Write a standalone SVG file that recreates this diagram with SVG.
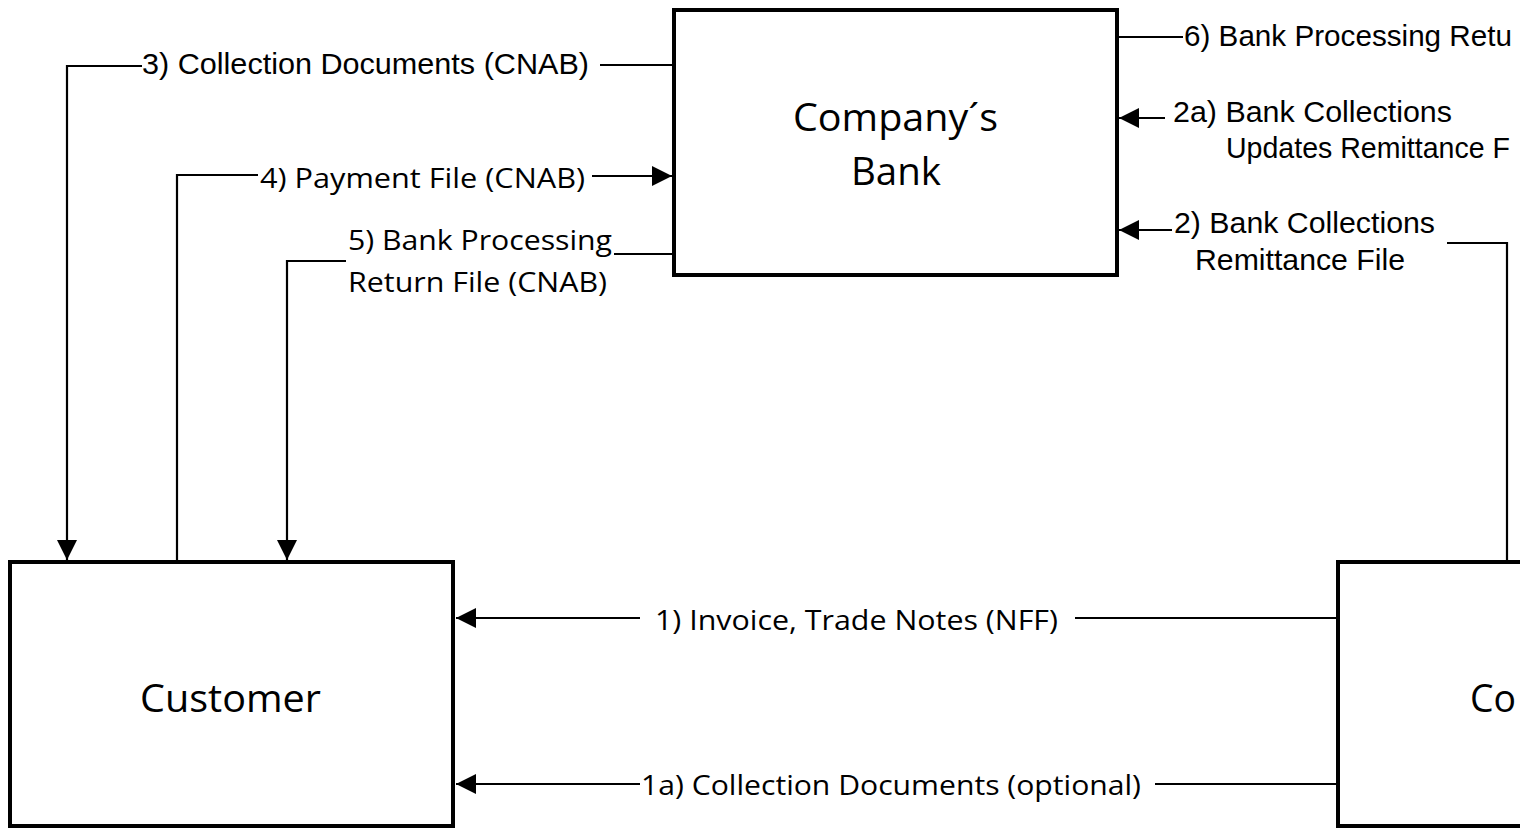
<svg xmlns="http://www.w3.org/2000/svg" width="1520" height="828" viewBox="0 0 1520 828">
<style>
.box{fill:#fff;stroke:#000;stroke-width:4}
.conn{fill:none;stroke:#000;stroke-width:2.2}
.arr{marker-end:url(#ah)}
.cal{font-family:"Open Sans","Noto Sans",sans-serif;fill:#000}
.ari{font-family:"Liberation Sans",Arial,sans-serif;fill:#000;font-size:30px}
.lbl{font-size:28px}
.big{font-size:38px}
</style>
<defs>
<marker id="ah" markerUnits="userSpaceOnUse" markerWidth="22" markerHeight="22" refX="20" refY="10" orient="auto">
<path d="M0,0 L20,10 L0,20 z" fill="#000"/>
</marker>
</defs>
<rect width="1520" height="828" fill="#fff"/>
<g id="connectors">
<path class="conn arr" d="M674,65 H600 M142,66 H67 V560"/>
<path class="conn arr" d="M177,560 V175 H258 M592,176 H672"/>
<path class="conn arr" d="M674,254 H614 M346,261 H287 V560"/>
<path class="conn" d="M1119,37 H1183"/>
<path class="conn arr" d="M1165,118 H1119"/>
<path class="conn arr" d="M1507,560 V243 H1447 M1172,230 H1119"/>
<path class="conn arr" d="M1336,618 H1075 M640,618 H456"/>
<path class="conn arr" d="M1336,784 H1155 M640,784 H456"/>
</g>
<g id="labels">
<text class="ari" x="142" y="74" textLength="447" lengthAdjust="spacingAndGlyphs">3) Collection Documents (CNAB)</text>
<text class="cal lbl" x="260" y="188" textLength="325" lengthAdjust="spacingAndGlyphs">4) Payment File (CNAB)</text>
<text class="cal lbl" x="348" y="250" textLength="264" lengthAdjust="spacingAndGlyphs">5) Bank Processing</text>
<text class="cal lbl" x="348" y="292" textLength="259" lengthAdjust="spacingAndGlyphs">Return File (CNAB)</text>
<text class="ari" x="1184" y="46" textLength="328" lengthAdjust="spacingAndGlyphs">6) Bank Processing Retu</text>
<text class="ari" x="1173" y="122" textLength="279" lengthAdjust="spacingAndGlyphs">2a) Bank Collections</text>
<text class="ari" x="1226" y="158" textLength="284" lengthAdjust="spacingAndGlyphs">Updates Remittance F</text>
<text class="ari" x="1174" y="233" textLength="261" lengthAdjust="spacingAndGlyphs">2) Bank Collections</text>
<text class="ari" x="1195" y="270" textLength="210" lengthAdjust="spacingAndGlyphs">Remittance File</text>
<text class="cal lbl" x="655" y="630" textLength="403" lengthAdjust="spacingAndGlyphs">1) Invoice, Trade Notes (NFF)</text>
<text class="cal lbl" x="641" y="795" textLength="500" lengthAdjust="spacingAndGlyphs">1a) Collection Documents (optional)</text>
</g>
<g id="node-bank">
<rect class="box" x="674" y="10" width="443" height="265"/>
<text class="cal big" x="793" y="131" textLength="205" lengthAdjust="spacingAndGlyphs">Company´s</text>
<text class="cal big" x="851" y="185" textLength="90" lengthAdjust="spacingAndGlyphs">Bank</text>
</g>
<g id="node-customer">
<rect class="box" x="10" y="562" width="443" height="264"/>
<text class="cal big" x="140" y="712" textLength="181" lengthAdjust="spacingAndGlyphs">Customer</text>
</g>
<g id="node-company">
<rect class="box" x="1338" y="562" width="444" height="264"/>
<text class="cal big" x="1470" y="712" textLength="46" lengthAdjust="spacingAndGlyphs">Co</text>
</g>
</svg>
